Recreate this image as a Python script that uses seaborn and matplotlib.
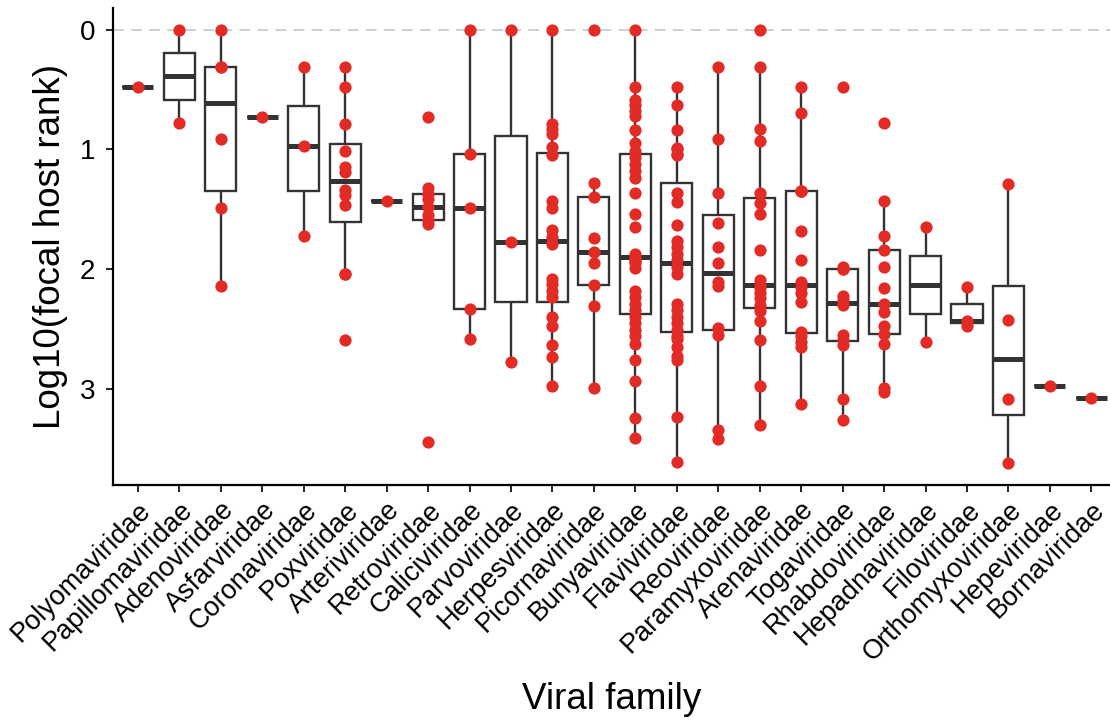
"""
Focal host rank by viral family
"""

import matplotlib.pyplot as plt
import pandas as pd
import seaborn as sns

families = [
    "Polyomaviridae", "Papillomaviridae", "Adenoviridae", "Asfarviridae",
    "Coronaviridae", "Poxviridae", "Arteriviridae", "Retroviridae",
    "Caliciviridae", "Parvoviridae", "Herpesviridae", "Picornaviridae",
    "Bunyaviridae", "Flaviviridae", "Reoviridae", "Paramyxoviridae",
    "Arenaviridae", "Togaviridae", "Rhabdoviridae", "Hepadnaviridae",
    "Filoviridae", "Orthomyxoviridae", "Hepeviridae", "Bornaviridae",
]

# log10 focal host rank, one list per family
polyomaviridae = [0.48]
papillomaviridae = [0.0, 0.78]
adenoviridae = [0.0, 0.31, 0.31, 0.91, 1.49, 2.14]
asfarviridae = [0.73]
coronaviridae = [0.31, 0.97, 1.72]
poxviridae = [0.31, 0.48, 0.79, 1.01, 1.15, 1.19, 1.34, 1.38, 1.46, 2.04, 2.04, 2.59]
arteriviridae = [1.43]
retroviridae = [0.73, 1.32, 1.37, 1.41, 1.48, 1.55, 1.59, 1.62, 3.44]
caliciviridae = [0.0, 1.04, 1.49, 2.33, 2.58]
parvoviridae = [0.0, 1.77, 2.77]
herpesviridae = [0.0, 0.79, 0.83, 0.87, 0.98, 1.05, 1.43, 1.49, 1.67, 1.73,
                 1.79, 2.08, 2.12, 2.18, 2.23, 2.40, 2.47, 2.63, 2.73, 2.97]
picornaviridae = [0.0, 1.28, 1.40, 1.74, 1.86, 1.95, 2.13, 2.31, 2.99]
bunyaviridae = [0.0, 0.48, 0.59, 0.63, 0.68, 0.72, 0.84, 0.95, 1.01, 1.06,
                1.12, 1.18, 1.24, 1.36, 1.54, 1.65, 1.87, 1.90, 1.92, 1.93,
                1.95, 1.99, 2.18, 2.23, 2.29, 2.34, 2.40, 2.45, 2.51, 2.56,
                2.62, 2.76, 2.93, 3.24, 3.41]
flaviviridae = [0.48, 0.63, 0.84, 0.99, 1.00, 1.04, 1.05, 1.36, 1.44, 1.63,
                1.76, 1.81, 1.87, 1.92, 1.98, 2.04, 2.29, 2.34, 2.40, 2.45,
                2.51, 2.56, 2.58, 2.65, 2.72, 2.76, 3.23, 3.61]
reoviridae = [0.31, 0.91, 1.36, 1.61, 1.81, 1.95, 2.11, 2.14, 2.49, 2.55, 3.34, 3.42]
paramyxoviridae = [0.0, 0.31, 0.83, 0.93, 1.36, 1.45, 1.54, 1.84, 2.09, 2.13,
                   2.16, 2.20, 2.24, 2.30, 2.35, 2.43, 2.59, 2.97, 3.30]
arenaviridae = [0.48, 0.70, 1.35, 1.35, 1.35, 1.68, 1.92, 2.11, 2.15, 2.20,
                2.27, 2.52, 2.56, 2.61, 2.65, 3.12]
togaviridae = [0.48, 1.98, 2.00, 2.00, 2.22, 2.26, 2.30, 2.55, 2.59, 2.63, 3.08, 3.26]
rhabdoviridae = [0.78, 1.43, 1.72, 1.84, 1.98, 2.16, 2.29, 2.36, 2.47, 2.54, 2.62, 2.99, 3.02]
hepadnaviridae = [1.65, 2.61]
filoviridae = [2.15, 2.43, 2.47]
orthomyxoviridae = [1.29, 2.425, 3.08, 3.62]
hepeviridae = [2.97]
bornaviridae = [3.07]

values = [
    polyomaviridae, papillomaviridae, adenoviridae, asfarviridae,
    coronaviridae, poxviridae, arteriviridae, retroviridae,
    caliciviridae, parvoviridae, herpesviridae, picornaviridae,
    bunyaviridae, flaviviridae, reoviridae, paramyxoviridae,
    arenaviridae, togaviridae, rhabdoviridae, hepadnaviridae,
    filoviridae, orthomyxoviridae, hepeviridae, bornaviridae,
]


def main():
    df = pd.DataFrame(
        [(fam, v) for fam, vals in zip(families, values) for v in vals],
        columns=["family", "rank"],
    )

    sns.set_style("ticks")
    plt.rcParams["font.family"] = ["Liberation Sans", "DejaVu Sans"]
    plt.rcParams["text.color"] = "black"
    plt.rcParams["axes.labelcolor"] = "black"
    plt.rcParams["xtick.color"] = "black"
    plt.rcParams["ytick.color"] = "black"

    fig = plt.figure(figsize=(11.1, 7.25), dpi=100)
    ax = fig.add_axes([113 / 1110, 1 - 485 / 725, 1 - 113 / 1110, (485 - 8) / 725])

    ax.axhline(0, color="#cccccc", linestyle=(0, (6, 4)), linewidth=1.3, zorder=0)

    sns.boxplot(
        data=df, x="family", y="rank", order=families, ax=ax,
        color="white", linecolor="#333333", linewidth=1.7, width=0.75,
        showfliers=False, showcaps=False,
        medianprops={"linewidth": 3.6, "color": "#333333"},
    )
    sns.stripplot(
        data=df, x="family", y="rank", order=families, ax=ax,
        jitter=False, color="#E32B26", size=8.8, linewidth=0, zorder=5,
    )

    ax.set_xlim(-0.6, 23.45)
    ax.set_ylim(3.8, -0.18)
    ax.set_yticks([0, 1, 2, 3])
    ax.set_xlabel("Viral family", fontsize=26.5, labelpad=12)
    ax.set_ylabel("Log10(focal host rank)", fontsize=26.5, labelpad=8)
    ax.tick_params(axis="both", length=5, width=1.2, color="black", labelsize=19.5)
    ax.tick_params(axis="y", labelsize=20, pad=8)
    plt.setp(ax.get_xticklabels(), rotation=45, ha="right", rotation_mode="anchor")

    sns.despine(ax=ax)
    for side in ("left", "bottom"):
        ax.spines[side].set_linewidth(1.6)
        ax.spines[side].set_color("black")

    fig.savefig("out.png", dpi=100)


if __name__ == "__main__":
    main()
